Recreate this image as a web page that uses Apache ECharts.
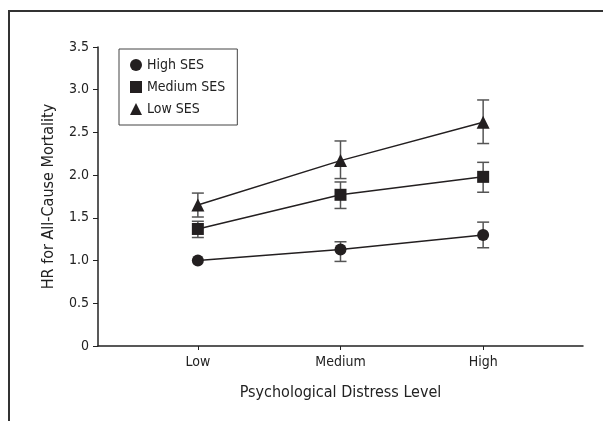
<!DOCTYPE html>
<html>
<head>
<meta charset="utf-8">
<script src="https://cdn.jsdelivr.net/npm/echarts@6/dist/echarts.min.js"></script>
<style>
html,body{margin:0;padding:0;background:#fff;}
#chart{width:603px;height:421px;}
</style>
</head>
<body>
<div id="chart"></div>
<script>
var categories = ['Low', 'Medium', 'High'];
var categoryPos = [1, 2, 3];
var seriesNames = ['High SES', 'Medium SES', 'Low SES'];
var highSES = [1.0, 1.13, 1.30];
var highSESLo = [null, 0.99, 1.15];
var highSESHi = [null, 1.22, 1.45];
var mediumSES = [1.37, 1.77, 1.98];
var mediumSESLo = [1.27, 1.61, 1.80];
var mediumSESHi = [1.46, 1.92, 2.15];
var lowSES = [1.65, 2.17, 2.62];
var lowSESLo = [1.51, 1.96, 2.37];
var lowSESHi = [1.79, 2.40, 2.88];
var yTicks = [0, 0.5, 1.0, 1.5, 2.0, 2.5, 3.0, 3.5];

var FONT = "'Liberation Sans Narrow','DejaVu Sans Condensed',sans-serif";
var INK = '#231f20';

function pts(vals) { return vals.map(function (v, i) { return [categoryPos[i], v]; }); }
function errs(lo, hi) {
  var out = [];
  for (var i = 0; i < lo.length; i++) if (lo[i] != null) out.push([categoryPos[i], lo[i], hi[i]]);
  return out;
}
function errSeries(lo, hi) {
  return {
    type: 'custom',
    data: errs(lo, hi),
    z: 1,
    silent: true,
    renderItem: function (params, api) {
      var x = api.value(0);
      var pLo = api.coord([x, api.value(1)]);
      var pHi = api.coord([x, api.value(2)]);
      var w = 6;
      var st = { stroke: '#555', lineWidth: 1.5 };
      return {
        type: 'group',
        children: [
          { type: 'line', shape: { x1: pLo[0], y1: pLo[1], x2: pHi[0], y2: pHi[1] }, style: st },
          { type: 'line', shape: { x1: pLo[0] - w, y1: pLo[1], x2: pLo[0] + w, y2: pLo[1] }, style: st },
          { type: 'line', shape: { x1: pHi[0] - w, y1: pHi[1], x2: pHi[0] + w, y2: pHi[1] }, style: st }
        ]
      };
    }
  };
}
function lineSeries(name, vals, symbol, size) {
  return {
    name: name, type: 'line', data: pts(vals), symbol: symbol, symbolSize: size,
    z: 3,
    itemStyle: { color: INK, borderWidth: 0 },
    lineStyle: { color: INK, width: 1.5 },
    emphasis: { disabled: true }
  };
}

var chart = echarts.init(document.getElementById('chart'), null, { renderer: 'canvas' });
chart.setOption({
  animation: false,
  backgroundColor: '#fff',
  textStyle: { fontFamily: FONT },
  grid: { left: 98, right: 20, top: 47, bottom: 75 },
  graphic: [{
    type: 'polyline',
    shape: { points: [[9, 421], [9, 11], [603, 11]] },
    style: { stroke: '#333', lineWidth: 2, fill: null }
  }],
  legend: {
    orient: 'vertical',
    left: 119, top: 49,
    borderColor: '#444', borderWidth: 1,
    padding: [9, 12, 9, 11],
    itemGap: 8, itemWidth: 12, itemHeight: 12,
    textStyle: { fontFamily: FONT, fontSize: 14, color: '#222' },
    data: [
      { name: 'High SES', icon: 'circle' },
      { name: 'Medium SES', icon: 'rect' },
      { name: 'Low SES', icon: 'triangle' }
    ]
  },
  xAxis: {
    type: 'value', min: 0.3, max: 3.7,
    name: 'Psychological Distress Level', nameLocation: 'middle', nameGap: 39,
    nameTextStyle: { fontFamily: FONT, fontSize: 16, color: '#222' },
    splitLine: { show: false },
    axisLine: { lineStyle: { color: '#222', width: 1.5 } },
    axisTick: { customValues: categoryPos, length: 4, lineStyle: { color: '#222', width: 1 } },
    axisLabel: {
      customValues: categoryPos, margin: 9,
      fontFamily: FONT, fontSize: 14, color: '#222',
      formatter: function (v) { return categories[categoryPos.indexOf(Math.round(v))] || ''; }
    }
  },
  yAxis: {
    type: 'value', min: 0, max: 3.5, interval: 0.5,
    name: 'HR for All-Cause Mortality', nameLocation: 'middle', nameGap: 41,
    nameTextStyle: { fontFamily: FONT, fontSize: 16, color: '#222' },
    splitLine: { show: false },
    axisLine: { show: true, lineStyle: { color: '#222', width: 1.5 } },
    axisTick: { show: true, length: 5, lineStyle: { color: '#222', width: 1 } },
    axisLabel: {
      margin: 9, fontFamily: FONT, fontSize: 14, color: '#222',
      formatter: function (v) { return v === 0 ? '0' : v.toFixed(1); }
    }
  },
  series: [
    errSeries(highSESLo, highSESHi),
    errSeries(mediumSESLo, mediumSESHi),
    errSeries(lowSESLo, lowSESHi),
    lineSeries(seriesNames[0], highSES, 'circle', 12),
    lineSeries(seriesNames[1], mediumSES, 'rect', 12),
    lineSeries(seriesNames[2], lowSES, 'triangle', 13)
  ]
});
</script>
</body>
</html>
